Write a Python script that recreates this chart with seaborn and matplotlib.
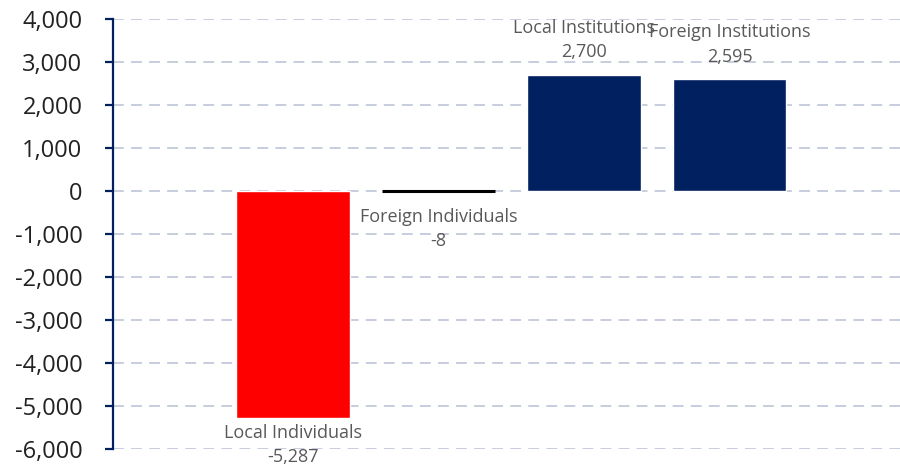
import numpy as np
import pandas as pd
import matplotlib
matplotlib.use('Agg')
import matplotlib.pyplot as plt
import seaborn as sns

# data
categories = ['Local Individuals', 'Foreign Individuals', 'Local Institutions', 'Foreign Institutions']
net_values = [-5287, -8, 2700, 2595]
bar_colors = ['#FF0000', '#000000', '#002060', '#002060']
y_ticks = list(range(-6000, 4001, 1000))

data = pd.DataFrame({'category': categories, 'value': net_values})

sns.set_style('white')
plt.rcParams['font.family'] = ['Open Sans', 'DejaVu Sans']

fig = plt.figure(figsize=(9, 4.69), dpi=100)
ax = fig.add_axes([0.1256, 0.0426, 0.8744, 0.9169])

sns.barplot(data=data, x='category', y='value', hue='category',
            palette=dict(zip(categories, bar_colors)), order=categories,
            width=0.78, legend=False, ax=ax, saturation=1)

# the tiny bar shows as a thick line
for patch, val in zip(ax.patches, net_values):
    if abs(val) < 50:
        patch.set_edgecolor('#000000')
        patch.set_linewidth(2.2)

# labels: name + value
label_gap = {'Local Individuals': 4, 'Foreign Individuals': 12}
for i, (cat, val) in enumerate(zip(categories, net_values)):
    txt = f'{cat}\n{val:,}'
    if val >= 0:
        ax.annotate(txt, (i, val), xytext=(0, 10), textcoords='offset points',
                    ha='center', va='bottom', fontsize=13, color='#595959',
                    linespacing=1.45)
    else:
        ax.annotate(txt, (i, val), xytext=(0, -label_gap.get(cat, 6)),
                    textcoords='offset points', ha='center', va='top',
                    fontsize=13, color='#595959', linespacing=1.45)

ax.set_ylim(-6000, 4000)
ax.set_xlim(-1.236, 4.17)
ax.set_yticks(y_ticks)
ax.set_yticklabels([f'{t:,}' for t in y_ticks], fontsize=17, color='#222222')
ax.set_xticks([])
ax.set_xlabel('')
ax.set_ylabel('')

ax.grid(axis='y', color='#C3C9DA', linestyle=(0, (6, 4)), linewidth=1.3)
ax.set_axisbelow(True)

for side in ['top', 'right', 'bottom']:
    ax.spines[side].set_visible(False)
ax.spines['left'].set_color('#002060')
ax.spines['left'].set_linewidth(1.6)
ax.tick_params(axis='y', which='both', left=True, length=6, width=1.6,
               color='#002060', pad=16)

fig.savefig('out.png', dpi=100)
